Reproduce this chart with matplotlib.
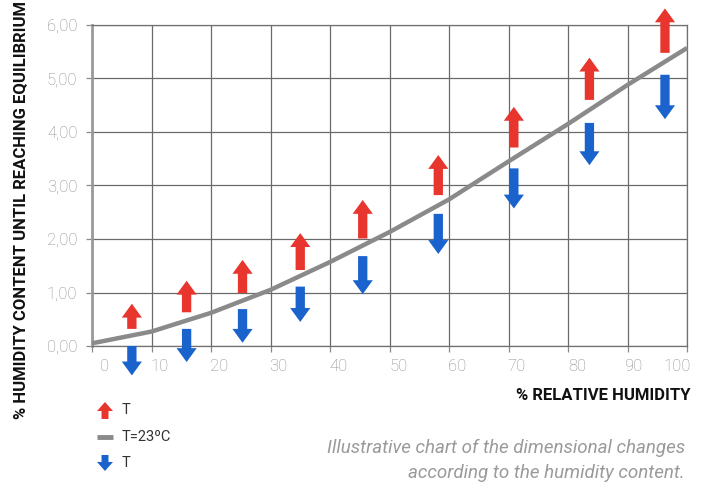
"""Humidity equilibrium chart with dimensional-change arrows."""
import matplotlib
matplotlib.use("Agg")
import matplotlib.pyplot as plt
from matplotlib.transforms import ScaledTranslation

# curve T=23ºC
humidity = [0, 10, 20, 30, 40, 50, 60, 70, 80, 90, 100]
equilibrium = [0.05, 0.27, 0.62, 1.05, 1.57, 2.13, 2.74, 3.45, 4.15, 4.88, 5.57]

# arrows (red = up, blue = down)
arrow_x = [6.7, 15.9, 25.3, 35.0, 45.5, 58.2, 70.9, 83.6, 96.3]
red_low = [0.32, 0.63, 0.99, 1.42, 2.01, 2.82, 3.71, 4.60, 5.48]
red_high = [0.79, 1.22, 1.61, 2.11, 2.73, 3.57, 4.47, 5.39, 6.31]
blue_high = [0.00, 0.32, 0.69, 1.11, 1.68, 2.47, 3.32, 4.17, 5.07]
blue_low = [-0.55, -0.30, 0.06, 0.45, 0.97, 1.72, 2.57, 3.38, 4.24]

x_ticks = [0, 10, 20, 30, 40, 50, 60, 70, 80, 90, 100]
y_ticks = [0, 1, 2, 3, 4, 5, 6]
y_ticklabels = ["0,00", "1,00", "2,00", "3,00", "4,00", "5,00", "6,00"]

RED = "#e8352d"
BLUE = "#1a62cc"
GRAY = "#8a8a8a"
W, H = 702, 491

plt.rcParams["font.family"] = ["Roboto", "DejaVu Sans"]
cond = ["Liberation Sans Narrow", "Roboto", "DejaVu Sans"]

fig = plt.figure(figsize=(W / 100, H / 100), dpi=100)
ax = fig.add_axes([92 / W, (H - 346) / H, (687 - 92) / W, (346 - 25) / H])
ax.set_xlim(0, 100)
ax.set_ylim(0, 6)

ax.set_xticks(x_ticks)
ax.set_xticklabels([str(v) for v in x_ticks])
ax.set_yticks(y_ticks)
ax.set_yticklabels(y_ticklabels)
ax.grid(True, color="#6a6a6a", lw=0.9, zorder=0)
ax.set_axisbelow(True)
for side in ("top", "right", "bottom"):
    ax.spines[side].set_color("#707070")
    ax.spines[side].set_linewidth(0.9)
ax.spines["left"].set_color("#9a9a9a")
ax.spines["left"].set_linewidth(2)
ax.tick_params(axis="both", colors="#8a8a8a", labelcolor="#8c8c8c",
               length=4.5, width=0.9, labelsize=12)
ax.tick_params(axis="x", pad=5)
ax.tick_params(axis="y", pad=6)
for lab in ax.get_xticklabels() + ax.get_yticklabels():
    lab.set_fontweight("light")

# labels in the original sit slightly right of their gridlines
shift_px = [13, 8, 8, 8, 9, 9, 8, 8, 9, 6, -10]
for lab, dx in zip(ax.get_xticklabels(), shift_px):
    lab.set_transform(lab.get_transform() + ScaledTranslation(dx / 100, 0, fig.dpi_scale_trans))

ax.plot(humidity, equilibrium, color=GRAY, lw=3.2, solid_capstyle="butt",
        solid_joinstyle="round", zorder=3, clip_on=False)

style = "simple,head_length=10,head_width=14.5,tail_width=6.7"
for x, lo, hi in zip(arrow_x, red_low, red_high):
    ax.annotate("", xy=(x, hi), xytext=(x, lo), annotation_clip=False, zorder=4,
                arrowprops=dict(arrowstyle=style, color=RED, lw=0,
                                mutation_scale=1, shrinkA=0, shrinkB=0))
for x, hi, lo in zip(arrow_x, blue_high, blue_low):
    ax.annotate("", xy=(x, lo), xytext=(x, hi), annotation_clip=False, zorder=4,
                arrowprops=dict(arrowstyle=style, color=BLUE, lw=0,
                                mutation_scale=1, shrinkA=0, shrinkB=0))

# axis titles
fig.text(690 / W, 1 - 395 / H, "% RELATIVE HUMIDITY", ha="right", va="center",
         fontsize=12, fontweight="bold", color="#111111", family=cond)
fig.text(21 / W, 1 - 210 / H, "% HUMIDITY CONTENT UNTIL REACHING EQUILIBRIUM",
         rotation=90, ha="center", va="center", fontsize=12, fontweight="bold",
         color="#111111", family=cond)

# legend drawn by hand
small = "simple,head_length=6.5,head_width=11.5,tail_width=5"
for y0, y1, c in ((419, 402, RED), (455, 471, BLUE)):
    fig.add_artist(plt.Annotation(
        "", xy=(105, H - y1), xytext=(105, H - y0), xycoords="figure pixels",
        textcoords="figure pixels",
        arrowprops=dict(arrowstyle=small, color=c, lw=0, mutation_scale=1,
                        shrinkA=0, shrinkB=0)))
fig.add_artist(plt.Line2D([97 / W, 113 / W], [1 - 437 / H, 1 - 437 / H],
                          color=GRAY, lw=3.5, solid_capstyle="butt"))
for y, s in ((410, "T"), (437, "T=23ºC"), (463, "T")):
    fig.text(122 / W, 1 - y / H, s, ha="left", va="center", fontsize=10.5,
             color="#333333")

# caption
fig.text(685 / W, 1 - 448 / H, "Illustrative chart of the dimensional changes",
         ha="right", va="center", fontsize=13.5, style="italic",
         color="#9a9a9a")
fig.text(685 / W, 1 - 473 / H, "according to the humidity content.",
         ha="right", va="center", fontsize=13.5, style="italic",
         color="#9a9a9a")

fig.savefig("out.png", dpi=100)
